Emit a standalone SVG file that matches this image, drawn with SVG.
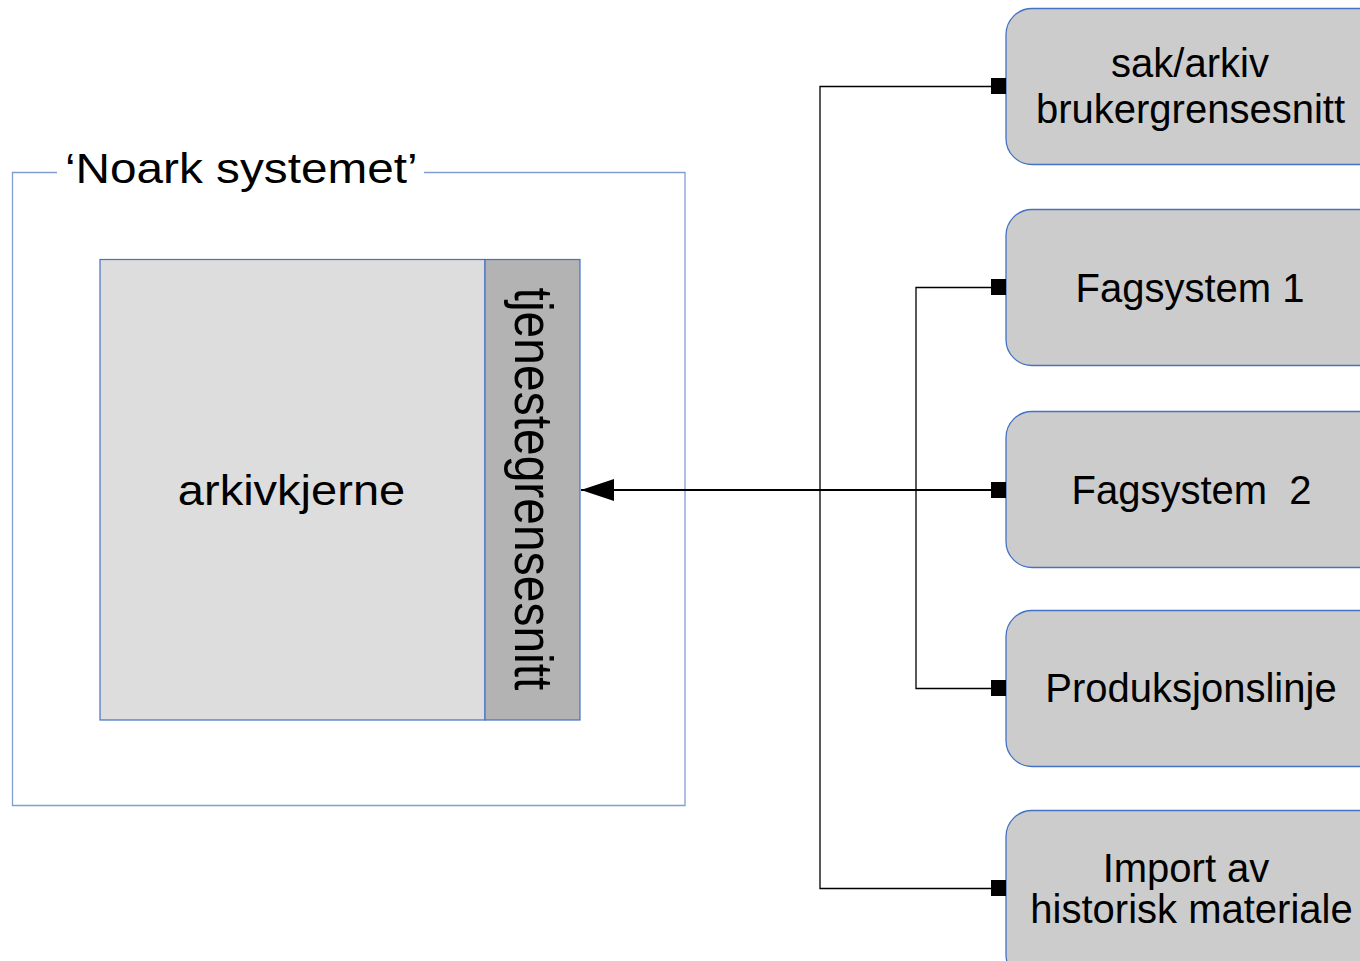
<svg xmlns="http://www.w3.org/2000/svg" width="1360" height="961" viewBox="0 0 1360 961">
  <style>
    .lbl { font-family: "Liberation Sans", Arial, sans-serif; fill: #000; }
    .rbox { fill: #cccccc; stroke: #4472c4; stroke-width: 1.3; }
    .conn { fill: none; stroke: #000; stroke-width: 1.3; }
    .sq { fill: #000; }
  </style>
  <defs>
    <marker id="arrow" markerWidth="33" markerHeight="22" refX="33" refY="11" orient="auto" markerUnits="userSpaceOnUse">
      <path d="M0,0 L33,11 L0,22 Z" fill="#000"/>
    </marker>
  </defs>
  <rect width="1360" height="961" fill="#fff"/>

  <g id="noark-system">
    <path d="M57,172.5 H12.5 V805.5 H685 V172.5 H424" fill="none" stroke="#7f9ed3" stroke-width="1.3"/>
    <text class="lbl" font-size="43" transform="translate(65,183) scale(1.11,1)">‘Noark systemet’</text>
  </g>

  <g id="arkivkjerne">
    <rect x="100" y="259.5" width="385" height="460.5" fill="#dddddd" stroke="#4472c4" stroke-width="1.2"/>
    <text class="lbl" font-size="42" text-anchor="middle" transform="translate(291.5,505) scale(1.12,1)">arkivkjerne</text>
  </g>

  <g id="tjenestegrensesnitt">
    <rect x="485" y="259.5" width="95" height="460.5" fill="#b3b3b3" stroke="#4472c4" stroke-width="1.2"/>
    <text class="lbl" font-size="48" text-anchor="middle" transform="translate(515,489) scale(1.12,1) rotate(90)">tjenestegrensesnitt</text>
  </g>

  <g id="sak-arkiv">
    <rect class="rbox" x="1006" y="8.5" width="380" height="156" rx="26" ry="26"/>
    <text class="lbl" font-size="40" text-anchor="middle" x="1190" y="77">sak/arkiv</text>
    <text class="lbl" font-size="40" text-anchor="middle" x="1190.5" y="123">brukergrensesnitt</text>
  </g>

  <g id="fagsystem1">
    <rect class="rbox" x="1006" y="209.5" width="380" height="156" rx="26" ry="26"/>
    <text class="lbl" font-size="40" text-anchor="middle" x="1190" y="302">Fagsystem 1</text>
  </g>

  <g id="fagsystem2">
    <rect class="rbox" x="1006" y="411.5" width="380" height="156" rx="26" ry="26"/>
    <text class="lbl" font-size="40" text-anchor="middle" x="1191.5" y="504" xml:space="preserve">Fagsystem  2</text>
  </g>

  <g id="produksjonslinje">
    <rect class="rbox" x="1006" y="610.5" width="380" height="156" rx="26" ry="26"/>
    <text class="lbl" font-size="40" text-anchor="middle" x="1191" y="702">Produksjonslinje</text>
  </g>

  <g id="import">
    <rect class="rbox" x="1006" y="810.5" width="380" height="170" rx="26" ry="26"/>
    <text class="lbl" font-size="40" text-anchor="middle" x="1186" y="882">Import av</text>
    <text class="lbl" font-size="40" text-anchor="middle" x="1191.5" y="923">historisk materiale</text>
  </g>

  <g id="connectors">
    <path class="conn" d="M992,86.5 H820 V888.5 H992"/>
    <path class="conn" d="M992,287.5 H916 V688.5 H992"/>
    <line x1="992" y1="490" x2="581" y2="490" stroke="#000" stroke-width="1.8" marker-end="url(#arrow)"/>
    <rect class="sq" x="991" y="78" width="15" height="16"/>
    <rect class="sq" x="991" y="279" width="15" height="16"/>
    <rect class="sq" x="991" y="482" width="15" height="16"/>
    <rect class="sq" x="991" y="680" width="15" height="16"/>
    <rect class="sq" x="991" y="880" width="15" height="16"/>
  </g>
</svg>
